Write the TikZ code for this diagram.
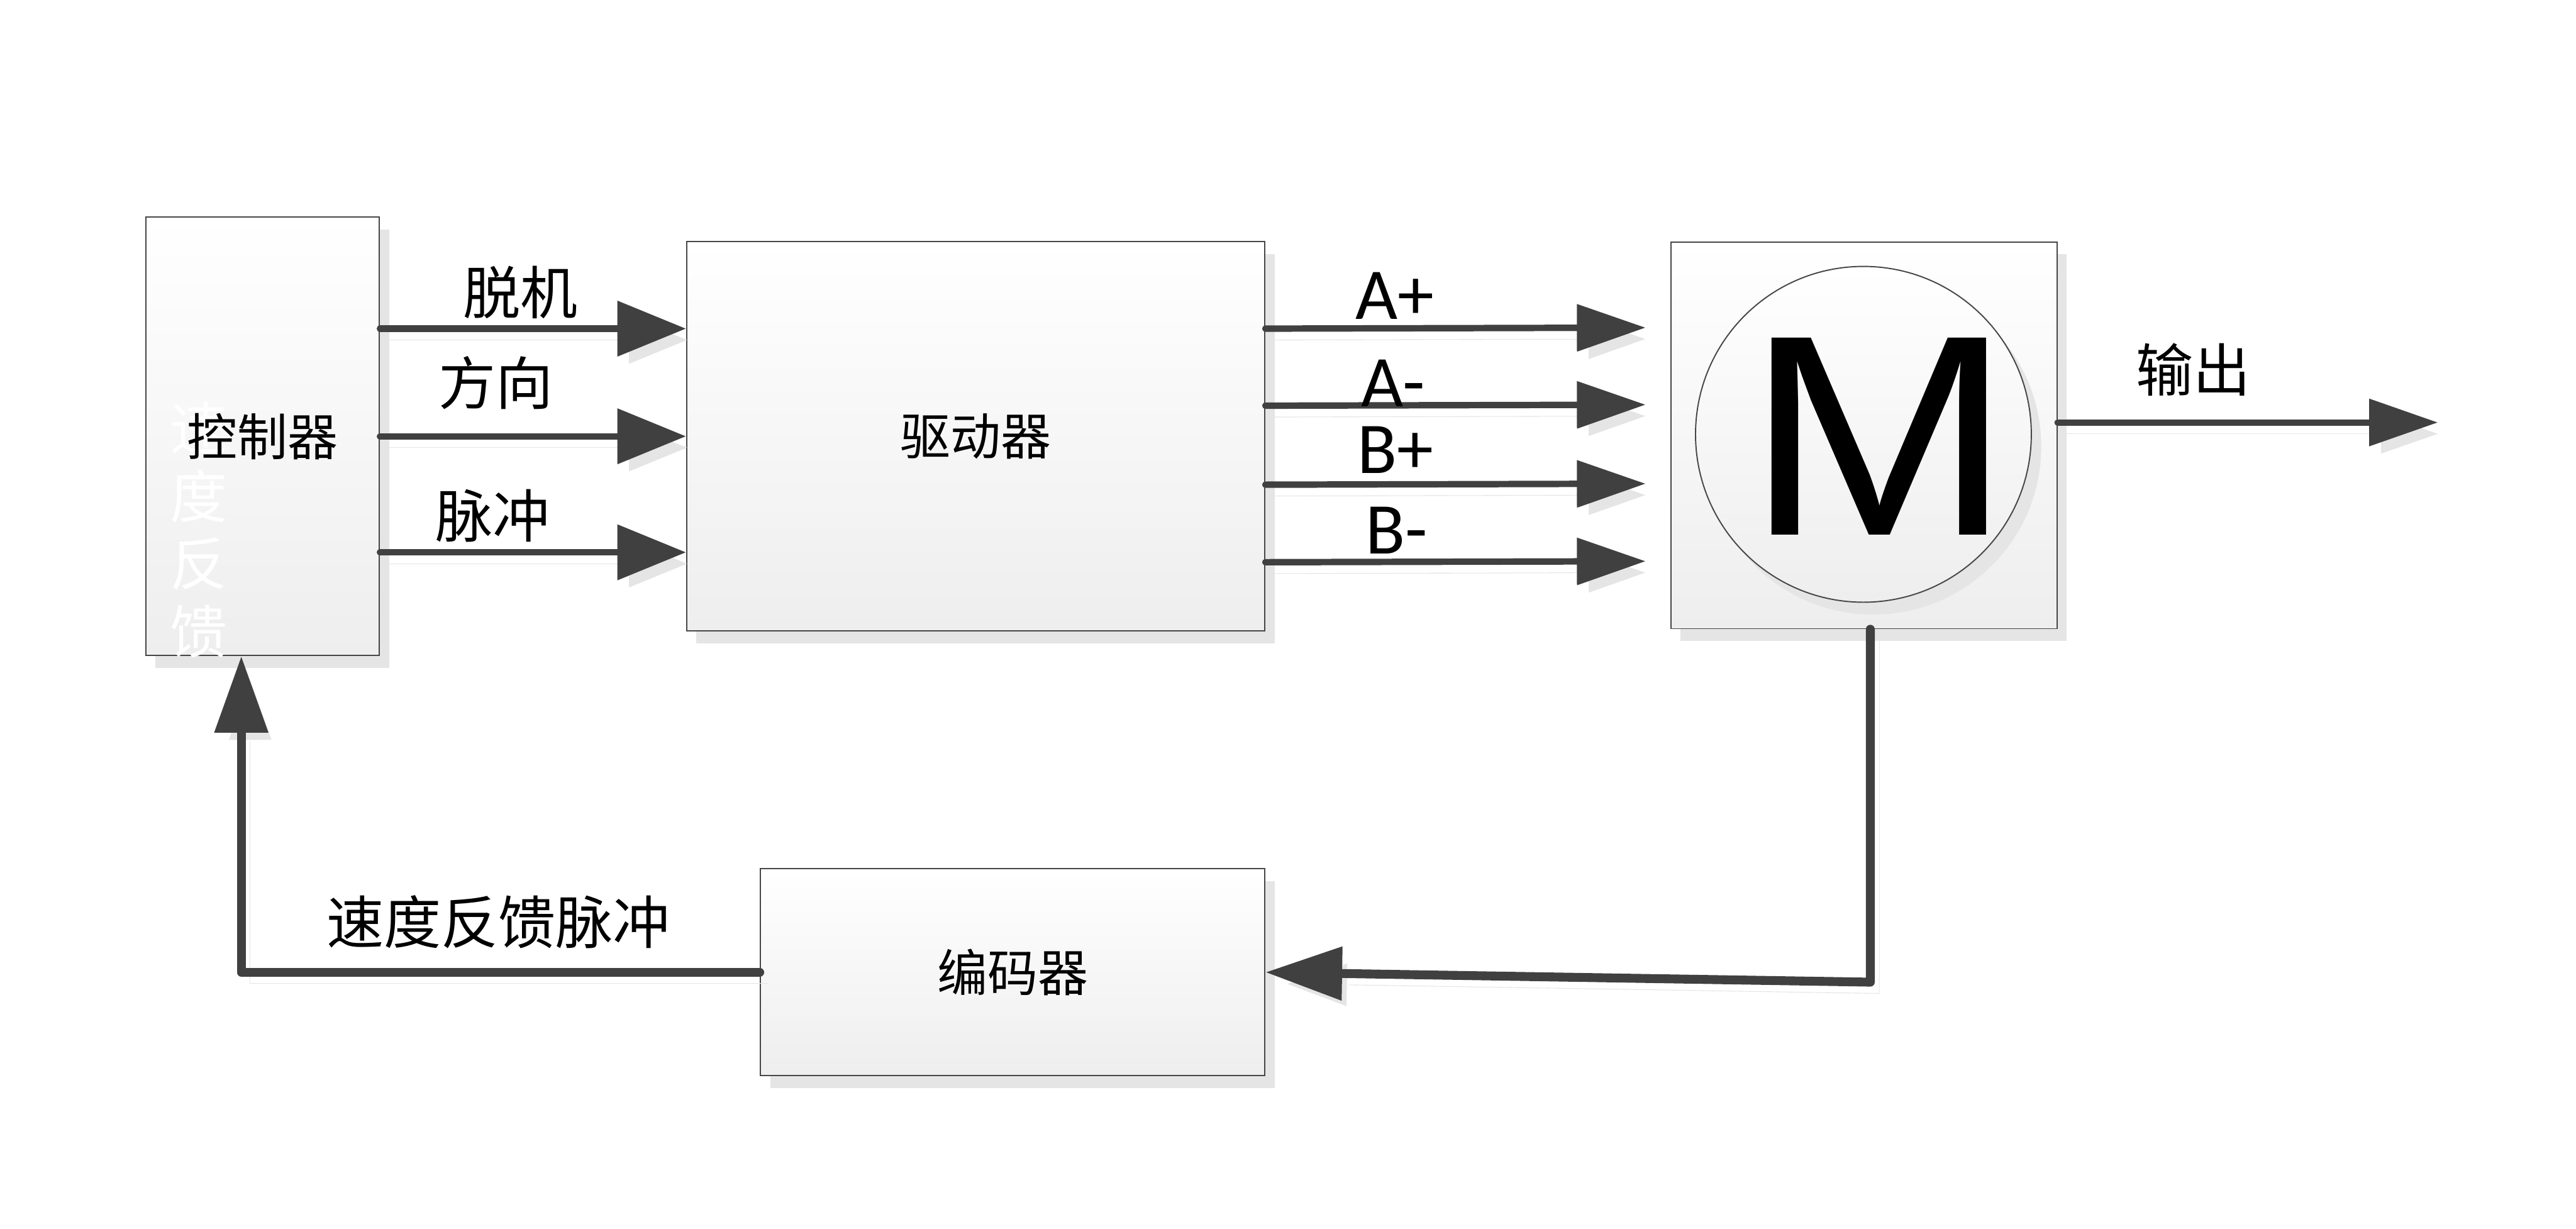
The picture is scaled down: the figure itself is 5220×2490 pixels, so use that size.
\documentclass[tikz,border=0pt]{standalone}
\usepackage{fontspec}
\newfontfamily\cjkfont{Noto Sans CJK SC}
\newfontfamily\latfont{Carlito}
\newfontfamily\motorfont{Liberation Sans}
\usetikzlibrary{arrows.meta,positioning,shadows}
\definecolor{LineGray}{RGB}{64,64,64}
\definecolor{EdgeGray}{RGB}{70,70,70}
\definecolor{ShadowGray}{RGB}{229,229,229}
\definecolor{BoxBottom}{RGB}{238,238,238}
\tikzset{
  block/.style={draw=EdgeGray,line width=0.7pt,top color=white,bottom color=BoxBottom,
    drop shadow={shadow xshift=0.2cm,shadow yshift=-0.25cm,fill=ShadowGray,opacity=1},
    inner sep=0pt},
  boxtext/.style={font=\cjkfont\fontsize{29pt}{34pt}\selectfont},
  siglabel/.style={font=\cjkfont\fontsize{33pt}{38pt}\selectfont,inner sep=0pt},
  phaselabel/.style={font=\latfont\fontsize{42pt}{46pt}\selectfont,inner sep=0pt},
  lineshadow/.style={preaction={draw=ShadowGray,transform canvas={shift={(0.18cm,-0.23cm)}}}},
  sigarrow/.style={-{Triangle[length=1.39cm,width=1.1cm]},line width=0.13cm,
    LineGray,line cap=round,lineshadow},
  phasearrow/.style={-{Triangle[length=1.39cm,width=0.93cm]},line width=0.13cm,
    LineGray,line cap=round,lineshadow},
  fbarrow/.style={-{Triangle[length=1.55cm,width=1.05cm]},line width=0.18cm,
    LineGray,line cap=round,line join=round,lineshadow}
}
\begin{document}
\begin{tikzpicture}[x=0.01cm,y=-0.01cm]
  \useasboundingbox (0,0) rectangle (5220,2490);
  % blocks
  \node[block,minimum width=4.73cm,minimum height=8.88cm] (ctrl) at (532,884) {};
  \node[font=\cjkfont\fontsize{33pt}{39pt}\selectfont,text=white,align=center,inner sep=0pt]
    (ghost) at (403,1074) {速\\度\\反\\馈};
  \node[boxtext] (ctrltxt) at (ctrl.center) {控制器};
  \node[block,boxtext,minimum width=11.71cm,minimum height=7.89cm] (drv) at (1977,884) {驱动器};
  \node[block,minimum width=7.82cm,minimum height=7.83cm] (motor) at (3777,882) {};
  \node[block,circle,minimum size=6.8cm] (mcirc) at (3776,880) {};
  \node[font=\motorfont\fontsize{165pt}{165pt}\selectfont,inner sep=0pt] (mtxt) at (3808,884)
    {\scalebox{1.12}[1]{M}};
  \node[block,boxtext,minimum width=10.22cm,minimum height=4.19cm] (enc) at (2052,1970) {编码器};
  % signals controller -> driver
  \foreach \dy in {2.18,0,-2.35}
    \draw[sigarrow] ([yshift=\dy cm]ctrl.east) -- ([yshift=\dy cm]drv.west);
  \node[siglabel] (ltuoji) at (1055,593) {脱机};
  \node[siglabel] (lfangxiang) at (1005,776) {方向};
  \node[siglabel] (lmaichong) at (999,1045) {脉冲};
  % phases driver -> motor
  \foreach \dy in {2.18,0.62,-0.98,-2.55}
    \draw[phasearrow] ([yshift=\dy cm]drv.east) -- ([xshift=-0.5cm,yshift=\dy cm]motor.west);
  \node[phaselabel] (lap) at (2826,599) {A+};
  \node[phaselabel] (lam) at (2823,776) {A-};
  \node[phaselabel] (lbp) at (2828,912) {B+};
  \node[phaselabel] (lbm) at (2830,1075) {B-};
  % output
  \coordinate (outend) at (4940,856);
  \draw[phasearrow] (motor.east |- outend) -- (outend);
  \node[siglabel] (lout) at (4444,749) {输出};
  % feedback loop
  \coordinate (mcorner) at (3790,1990);
  \coordinate (fbcorner) at (489,1970);
  \draw[fbarrow] (mcorner |- motor.south) -- (mcorner) -- (enc.east);
  \draw[fbarrow] (enc.west) -- (fbcorner) -- (fbcorner |- ctrl.south);
  \node[siglabel] (lfb) at (1010,1868) {速度反馈脉冲};
\end{tikzpicture}
\end{document}
